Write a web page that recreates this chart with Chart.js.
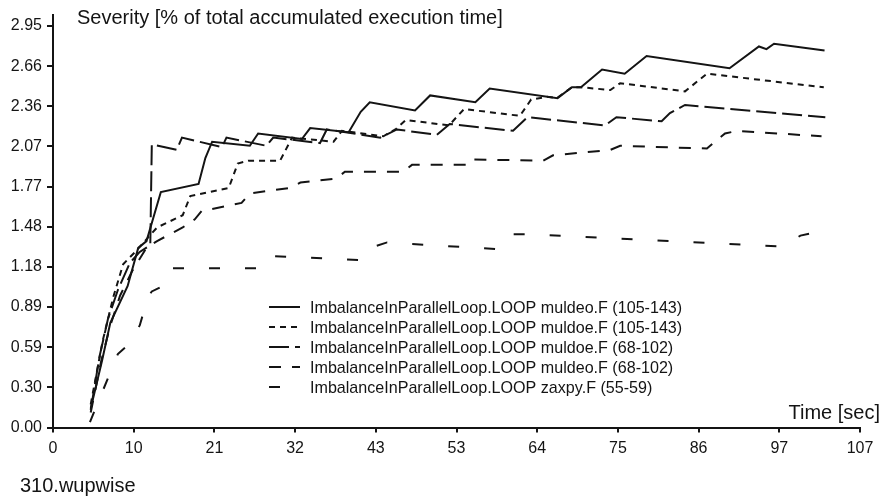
<!DOCTYPE html>
<html>
<head>
<meta charset="utf-8">
<script src="https://cdn.jsdelivr.net/npm/chart.js@4.4.1/dist/chart.umd.min.js"></script>
<style>
  html, body { margin: 0; padding: 0; background: #ffffff; }
  #wrap { width: 888px; height: 497px; position: relative; }
  canvas { display: block; }
</style>
</head>
<body>
<div id="wrap"><canvas id="c" width="888" height="497"></canvas></div>
<script>
// ---- data ----
const seriesLabels = [
  'ImbalanceInParallelLoop.LOOP muldeo.F (105-143)',
  'ImbalanceInParallelLoop.LOOP muldoe.F (105-143)',
  'ImbalanceInParallelLoop.LOOP muldoe.F (68-102)',
  'ImbalanceInParallelLoop.LOOP muldeo.F (68-102)',
  'ImbalanceInParallelLoop.LOOP zaxpy.F (55-59)'
];

const xTickValues = [0, 10.7, 21.4, 32.1, 42.8, 53.5, 64.2, 74.9, 85.6, 96.3, 107];
const xTickLabels = ['0', '10', '21', '32', '43', '53', '64', '75', '86', '97', '107'];
const yTickValues = [0, 0.295, 0.59, 0.885, 1.18, 1.475, 1.77, 2.065, 2.36, 2.655, 2.95];
const yTickLabels = ['0.00', '0.30', '0.59', '0.89', '1.18', '1.48', '1.77', '2.07', '2.36', '2.66', '2.95'];

const s1X = [5.0, 6.5, 7.6, 9.9, 11.3, 12.4, 14.3, 19.3, 20.2, 21.1, 26.1, 27.2, 33.0, 34.1, 39.2, 40.8, 42.0, 48.0, 50.0, 56.0, 57.9, 66.9, 68.8, 70.0, 72.8, 75.8, 78.7, 89.7, 93.6, 94.6, 95.6, 102.3];
const s1Y = [0.14, 0.49, 0.77, 1.04, 1.32, 1.37, 1.73, 1.79, 1.98, 2.10, 2.07, 2.16, 2.12, 2.20, 2.17, 2.32, 2.39, 2.33, 2.44, 2.39, 2.49, 2.42, 2.50, 2.50, 2.63, 2.60, 2.73, 2.64, 2.80, 2.78, 2.82, 2.77];

const s2X = [5.0, 6.6, 8.0, 9.3, 10.9, 13.8, 17.2, 18.2, 23.3, 24.5, 25.9, 30.1, 31.7, 37.2, 38.3, 43.8, 45.4, 46.8, 52.5, 54.5, 61.9, 63.4, 65.5, 66.8, 68.8, 70.0, 73.9, 75.2, 83.8, 86.7, 102.2];
const s2Y = [0.17, 0.64, 0.96, 1.20, 1.29, 1.47, 1.56, 1.70, 1.76, 1.94, 1.96, 1.96, 2.13, 2.10, 2.18, 2.14, 2.19, 2.26, 2.22, 2.34, 2.29, 2.41, 2.43, 2.42, 2.50, 2.50, 2.48, 2.53, 2.47, 2.60, 2.50];

const s3X = [5.0, 6.2, 7.3, 8.6, 10.2, 11.5, 12.9, 13.1, 16.4, 17.1, 22.4, 23.0, 28.3, 29.2, 35.4, 36.3, 43.4, 45.6, 50.9, 52.6, 61.0, 62.9, 64.6, 73.2, 74.7, 80.7, 81.8, 83.8, 102.4];
const s3Y = [0.13, 0.53, 0.80, 1.01, 1.21, 1.29, 1.34, 2.08, 2.04, 2.13, 2.06, 2.13, 2.07, 2.13, 2.09, 2.19, 2.13, 2.19, 2.15, 2.23, 2.18, 2.28, 2.27, 2.22, 2.28, 2.25, 2.31, 2.37, 2.28];

const s4X = [5.0, 6.4, 7.6, 8.9, 10.5, 12.4, 13.8, 17.2, 18.8, 19.7, 25.0, 26.1, 31.4, 32.8, 37.6, 38.7, 46.4, 47.6, 54.9, 55.6, 65.0, 66.3, 73.9, 75.2, 86.7, 88.0, 89.1, 90.7, 101.9];
const s4Y = [0.11, 0.49, 0.75, 0.97, 1.15, 1.32, 1.37, 1.47, 1.53, 1.59, 1.65, 1.72, 1.76, 1.80, 1.83, 1.88, 1.88, 1.93, 1.93, 1.97, 1.96, 2.00, 2.04, 2.07, 2.05, 2.11, 2.16, 2.18, 2.14];

const s5X = [4.9, 8.6, 9.8, 11.5, 12.6, 13.1, 14.2, 15.5, 27.7, 29.0, 32.8, 41.0, 42.6, 44.3, 59.0, 60.9, 63.0, 96.8, 99.1, 100.8];
const s5Y = [0.04, 0.54, 0.60, 0.75, 0.96, 1.00, 1.03, 1.17, 1.17, 1.26, 1.25, 1.23, 1.33, 1.36, 1.31, 1.42, 1.42, 1.33, 1.41, 1.43];

const chartTitle = 'Severity [% of total accumulated execution time]';
const xAxisTitle = 'Time [sec]';
const caption = '310.wupwise';

// ---- styling ----
const INK = '#141414';
const FONT = "'Liberation Sans', Arial, sans-serif";
const dashes = [[], [6, 5], [20, 6], [12, 11], [11, 25]];

function pts(xs, ys) { return xs.map((x, i) => ({ x: x, y: ys[i] })); }
const allX = [s1X, s2X, s3X, s4X, s5X];
const allY = [s1Y, s2Y, s3Y, s4Y, s5Y];

const datasets = seriesLabels.map((lab, i) => ({
  label: lab,
  data: pts(allX[i], allY[i]),
  borderColor: INK,
  borderWidth: 2,
  borderDash: dashes[i],
  borderCapStyle: 'butt',
  borderJoinStyle: 'miter',
  pointRadius: 0,
  tension: 0,
  fill: false
}));

const textPlugin = {
  id: 'texts',
  afterDraw(chart) {
    const ctx = chart.ctx;
    ctx.save();
    ctx.fillStyle = INK;
    ctx.textBaseline = 'alphabetic';
    ctx.font = '20px ' + FONT;
    ctx.textAlign = 'left';
    ctx.fillText(chartTitle, 77, 23.5);
    ctx.textAlign = 'right';
    ctx.fillText(xAxisTitle, 880, 419);
    ctx.textAlign = 'left';
    ctx.fillText(caption, 20, 492);

    // legend
    ctx.font = '16.1px ' + FONT;
    seriesLabels.forEach((lab, i) => {
      const yc = 307 + i * 20;
      ctx.save();
      ctx.strokeStyle = INK;
      ctx.lineWidth = 2;
      ctx.lineCap = 'butt';
      ctx.setLineDash(dashes[i]);
      ctx.beginPath();
      ctx.moveTo(269, yc);
      ctx.lineTo(300, yc);
      ctx.stroke();
      ctx.restore();
      ctx.fillText(lab, 310, yc + 5.5);
    });
    ctx.restore();
  }
};

new Chart(document.getElementById('c'), {
  type: 'line',
  data: { datasets: datasets },
  options: {
    responsive: false,
    animation: false,
    devicePixelRatio: 1,
    layout: { padding: { top: 13, right: 28, left: 0, bottom: 0 } },
    plugins: { legend: { display: false }, tooltip: { enabled: false } },
    scales: {
      x: {
        type: 'linear',
        min: 0,
        max: 107,
        afterBuildTicks: (s) => { s.ticks = xTickValues.map(v => ({ value: v })); },
        afterFit: (s) => { s.height = 69.5; },
        ticks: {
          autoSkip: false,
          maxRotation: 0,
          padding: 6,
          color: INK,
          font: { size: 16, family: FONT },
          callback: (v, i) => xTickLabels[i]
        },
        grid: { drawOnChartArea: false, drawTicks: true, tickLength: 5, color: INK, lineWidth: 2 },
        border: { display: true, color: INK, width: 2 }
      },
      y: {
        type: 'linear',
        min: 0,
        max: 3.034,
        afterBuildTicks: (s) => { s.ticks = yTickValues.map(v => ({ value: v })); },
        afterFit: (s) => { s.width = 53; },
        ticks: {
          autoSkip: false,
          padding: 5,
          color: INK,
          font: { size: 16, family: FONT },
          callback: (v, i) => yTickLabels[i]
        },
        grid: { drawOnChartArea: false, drawTicks: true, tickLength: 6, color: INK, lineWidth: 2 },
        border: { display: true, color: INK, width: 2 }
      }
    }
  },
  plugins: [textPlugin]
});
</script>
</body>
</html>
